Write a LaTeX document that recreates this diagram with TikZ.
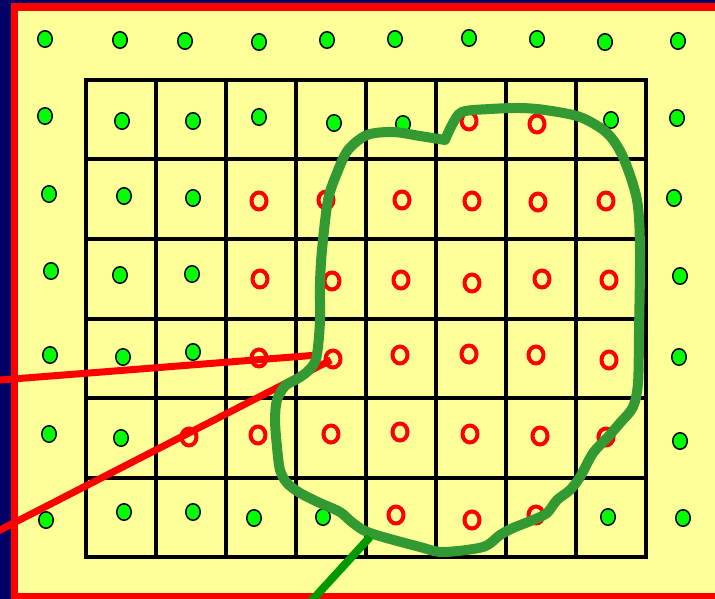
\documentclass[tikz,border=0pt]{standalone}
\usetikzlibrary{shapes.geometric}
\definecolor{navybg}{HTML}{000066}
\definecolor{paleyellow}{HTML}{FFFF99}
\definecolor{dotgreen}{HTML}{00FF00}
\definecolor{curvegreen}{HTML}{339933}
\definecolor{darkgreen}{HTML}{009900}
\tikzset{
  gdot/.style={shape=ellipse, draw=black, fill=dotgreen, line width=1.5pt, minimum width=14.5pt, minimum height=16.5pt, inner sep=0pt},
  rring/.style={shape=ellipse, draw=red, line width=4pt, minimum width=15pt, minimum height=17pt, inner sep=0pt},
  gridline/.style={draw=black, line width=4pt},
  redline/.style={draw=red, line width=7pt},
  curveline/.style={draw=curvegreen, line width=10pt, line join=round},
  spokeline/.style={draw=darkgreen, line width=8pt}
}
\begin{document}
\begin{tikzpicture}[x=1pt, y=-1pt]
\useasboundingbox (0,0) rectangle (715,599);
\begin{scope}
\clip (0,0) rectangle (715,599);
% background and frame
\fill[paleyellow] (0,0) rectangle (715,599);
\fill[navybg] (0,0) rectangle (11,599);
\fill[navybg] (0,0) rectangle (715,3);
\fill[red] (11,3) rectangle (18,599);
\fill[red] (11,3) rectangle (715,11);
\fill[red] (11,593) rectangle (715,599);
% grid
\foreach \i in {0,...,8} {
  \draw[gridline] ({85.5+70.06*\i},78) -- ({85.5+70.06*\i},559);
}
\foreach \j in {0,...,6} {
  \draw[gridline] (83.5,{80+79.5*\j}) -- (648,{80+79.5*\j});
}
% green dots
\foreach \x/\y [count=\i] in {
  45/39, 120/40, 185/41, 259/42, 327/40, 395/39, 469/38, 537/39, 605/42, 678/41,
  45/116, 122/121, 193/121, 259/117, 334/123, 403/124, 611/120, 677/118,
  49/194, 124/196, 193/198, 674/198,
  51/271, 120/275, 192/274, 680/276,
  50/355, 123/357, 193/352, 679/357,
  49/434, 121/438, 680/441,
  46/520, 124/512, 193/512, 254/518, 323/517, 608/517, 683/518} {
  \node[gdot] (g\i) at (\x,\y) {};
}
% red rings
\foreach \x/\y [count=\i] in {
  469/121, 537/124,
  259/201, 326/200, 402/200, 472/201, 538/202, 606/201,
  260/279, 332/281, 401/280, 472/283, 542/279, 609/280,
  259/358, 333/359, 400/355, 469/354, 536/355, 609/360,
  189/437, 258/435, 331/434, 400/432, 470/434, 540/436, 606/437,
  396/515, 472/520, 536/515} {
  \node[rring] (r\i) at (\x,\y) {};
}
% red lines
\coordinate (L1) at (-5,380.4);
\coordinate (E1) at (318,355);
\coordinate (L2) at (-5,532.6);
\coordinate (E2) at (331,360);
\draw[redline] (L1) -- (E1);
\draw[redline] (L2) -- (E2);
% green closed curve
\draw[curveline] plot[smooth, tension=0.5] coordinates {
  (445,140) (452,125) (462,112) (490,109) (520,108) (545,110) (580,117)
  (607,133) (623,157) (637,200) (640,250) (639,333) (638,383) (633,407)
  (620,423) (607,438) (593,453) (580,477) (570,490) (557,500) (547,513)
  (533,520) (513,528) (500,535) (483,547) (443,552) (420,547) (370,533)
  (353,523) (340,512) (320,503) (300,493) (287,483) (280,470) (277,447)
  (275,420) (277,400) (285,386) (297,379) (307,372) (315,362) (318,347)
  (320,320) (320,283) (322,250) (328,200) (337,173) (348,150) (367,135)
  (393,132) (420,136) (445,140)} -- cycle;
% dark green spoke
\coordinate (S1) at (370,537);
\coordinate (S2) at (305,608);
\draw[spokeline] (S1) -- (S2);
\end{scope}
\end{tikzpicture}
\end{document}
